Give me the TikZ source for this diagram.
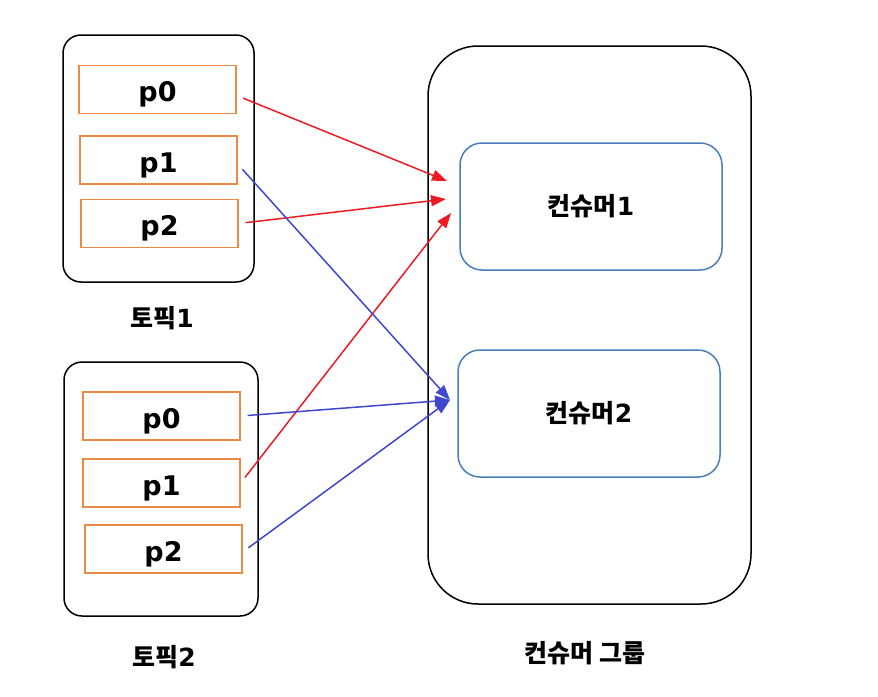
\documentclass[tikz,border=0pt]{standalone}
\usepackage{fontspec}
\setmainfont{DejaVu Sans}
\newfontfamily\krfont{Noto Sans CJK KR}
\usetikzlibrary{arrows.meta}
\definecolor{cRed}{HTML}{ED1C24}
\definecolor{cBlue}{HTML}{3F48CC}
\definecolor{cOrange}{HTML}{EA8B45}
\definecolor{cSteel}{HTML}{4A7EBB}
\tikzset{
  topic/.style={draw=black,line width=1.5pt,rounded corners=18pt,inner sep=0pt},
  part/.style={draw=cOrange,line width=1.3pt,inner sep=0pt,minimum width=157pt,minimum height=48pt,
    text height=24pt,text depth=0pt,font=\fontsize{27}{27}\selectfont\bfseries},
  group/.style={draw=black,line width=1.5pt,rounded corners=50pt,inner sep=0pt,minimum width=323pt,minimum height=558pt},
  consumer/.style={draw=cSteel,line width=1.5pt,rounded corners=22pt,minimum width=262pt,minimum height=127pt,
    font=\fontsize{25}{25}\selectfont\bfseries},
  caption/.style={font=\fontsize{25}{25}\selectfont\bfseries},
  redarrow/.style={-{Triangle[length=15pt,width=11pt]},line width=1.5pt,cRed,shorten <=7pt},
  bluearrow/.style={-{Triangle[length=15pt,width=11pt]},line width=1.5pt,cBlue,shorten <=7pt},
}
\begin{document}
\begin{tikzpicture}[x=1pt,y=-1pt]
  \useasboundingbox (0,0) rectangle (878,696);
  \node[topic,minimum width=191pt,minimum height=247pt] (topic1) at (158.5,158.5) {};
  \node[topic,minimum width=194pt,minimum height=254pt] (topic2) at (161,489) {};
  \foreach \k/\x/\y in {0/157.5/89.5,1/158.5/160,2/159.5/223.5}
    \node[part] (t1p\k) at (\x,\y) {p\k};
  \foreach \k/\x/\y in {0/161.5/416,1/161.5/483,2/163.5/549}
    \node[part] (t2p\k) at (\x,\y) {p\k};
  \node[caption] (lab1) at (162,318) {{\krfont 토픽}1};
  \node[caption] (lab2) at (164,657) {{\krfont 토픽}2};
  \node[group] (grp) at (589.5,325) {};
  \node[consumer] (con1) at (591,206.5) {{\krfont 컨슈머}1};
  \node[consumer] (con2) at (589,413.5) {{\krfont 컨슈머}2};
  \node[caption] (lab3) at (585,653) {\krfont 컨슈머 그룹};
  \coordinate (in1a) at (447,181);
  \coordinate (in1b) at (446,199);
  \coordinate (in1c) at (451,213);
  \coordinate (in2) at (450,400);
  \draw[redarrow] ([yshift=-6pt]t1p0.east) -- (in1a);
  \draw[redarrow] (t1p2.east) -- (in1b);
  \draw[redarrow] (t2p1.east) -- (in1c);
  \draw[bluearrow] ([yshift=-4pt]t1p1.east) -- (in2);
  \draw[bluearrow] (t2p0.east) -- (in2);
  \draw[bluearrow] ([yshift=-3pt]t2p2.east) -- (in2);
\end{tikzpicture}
\end{document}
